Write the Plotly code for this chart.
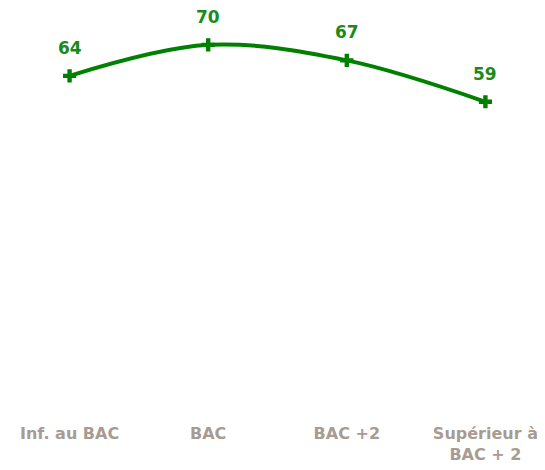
import plotly.graph_objects as go

categories = ["Inf. au BAC", "BAC", "BAC +2", "Supérieur à<br>BAC + 2"]
values = [64, 70, 67, 59]

x_pos = list(range(len(categories)))

fig = go.Figure()
fig.add_trace(go.Scatter(
    x=x_pos, y=values, mode="lines+markers",
    line=dict(color="#008000", width=4, shape="spline", smoothing=1),
    marker=dict(symbol="cross", size=11, color="#008000"),
    hoverinfo="skip",
))
for xi, v in zip(x_pos, values):
    fig.add_annotation(x=xi, y=v, text=str(v), showarrow=False, yshift=28,
                       font=dict(family="DejaVu Sans", size=17, color="#1a8a1a", weight="bold"))

fig.update_layout(
    width=545, height=470,
    margin=dict(l=20, r=26, t=11, b=71),
    paper_bgcolor="white", plot_bgcolor="white",
    showlegend=False,
    xaxis=dict(range=[-0.3, 3.3], tickvals=x_pos, ticktext=categories,
               showgrid=False, zeroline=False, showline=False, ticks="",
               ticklabelstandoff=15,
               tickfont=dict(family="DejaVu Sans", size=16, color="#a89b91", weight="bold")),
    yaxis=dict(range=[0, 75], visible=False, showgrid=False, zeroline=False),
)
fig.write_html("out.html")
